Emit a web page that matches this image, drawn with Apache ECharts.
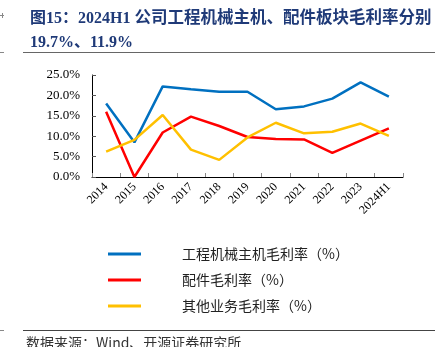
<!DOCTYPE html>
<html>
<head>
<meta charset="utf-8">
<script src="https://cdn.jsdelivr.net/npm/echarts@6/dist/echarts.min.js"></script>
<style>
  html, body { margin: 0; padding: 0; background: #fff; }
  #chart { width: 446px; height: 347px; }
</style>
</head>
<body>
<div id="chart"></div>
<script>
// Gross margin by segment, %
const years = ['2014', '2015', '2016', '2017', '2018', '2019', '2020', '2021', '2022', '2023', '2024H1'];
const hostMargin  = [18.0, 8.5, 22.2, 21.5, 20.9, 20.9, 16.6, 17.3, 19.2, 23.2, 19.7];
const partsMargin = [16.0, 0.0, 10.9, 14.8, 12.5, 9.8, 9.3, 9.2, 5.9, 8.9, 11.9];
const otherMargin = [6.2, 9.1, 15.2, 6.7, 4.2, 9.7, 13.3, 10.7, 11.1, 13.1, 10.1];
const seriesNames = ['工程机械主机毛利率（%）', '配件毛利率（%）', '其他业务毛利率（%）'];
const seriesColors = ['#0070C0', '#FF0000', '#FFC000'];
const titleHead = '图15：2024H1 ';
const titleTail = '公司工程机械主机、配件板块毛利率分别';
const titleLine2 = '19.7%、11.9%';
const sourceText = '数据来源：Wind、开源证券研究所';

const serif = '"Liberation Serif", "Times New Roman", "Noto Sans CJK SC", serif';
const cjk = '"Noto Sans CJK SC", "Liberation Serif", serif';

const chart = echarts.init(document.getElementById('chart'), null, { renderer: 'canvas' });

const lineSeries = [hostMargin, partsMargin, otherMargin].map((d, i) => ({
  name: seriesNames[i],
  type: 'line',
  data: d,
  symbol: 'none',
  lineStyle: { width: 2.5, color: seriesColors[i] },
  itemStyle: { color: seriesColors[i] },
  animation: false
}));

const titleColor = '#1F3A78';

chart.setOption({
  backgroundColor: '#fff',
  animation: false,
  grid: { left: 92, right: 43, top: 75, bottom: 170, containLabel: false },
  xAxis: {
    type: 'category',
    data: years,
    boundaryGap: true,
    axisLine: { lineStyle: { color: '#000', width: 1 } },
    axisTick: { show: true, inside: true, length: 4, lineStyle: { color: '#888' } },
    axisLabel: { rotate: 45, margin: 8, fontFamily: serif, fontSize: 12, color: '#000' }
  },
  yAxis: {
    type: 'value',
    min: 0, max: 25, interval: 5,
    splitLine: { show: false },
    axisLine: { show: true, lineStyle: { color: '#000', width: 1 } },
    axisTick: { show: true, inside: true, length: 4, lineStyle: { color: '#555' } },
    axisLabel: {
      fontFamily: serif, fontSize: 13, color: '#000', margin: 12,
      formatter: v => v.toFixed(1) + '%'
    }
  },
  legend: {
    orient: 'vertical',
    left: 103, top: 242,
    itemWidth: 33, itemHeight: 3,
    itemGap: 12,
    icon: 'rect',
    data: seriesNames,
    textStyle: { fontFamily: cjk, fontSize: 14, color: '#222', padding: [0, 0, 0, 36] }
  },
  title: {
    text: '{a|' + titleHead + '}{b|' + titleTail + '}\n{a|' + titleLine2 + '}',
    left: 25, top: 2,
    textStyle: {
      rich: {
        a: { fontFamily: serif, fontSize: 16, fontWeight: 'bold', color: titleColor, lineHeight: 24 },
        b: { fontFamily: serif, fontSize: 16.5, fontWeight: 'bold', color: titleColor, lineHeight: 24 }
      }
    }
  },
  graphic: [
    { type: 'line', shape: { x1: 23, y1: 52.5, x2: 435, y2: 52.5 }, style: { stroke: '#666', lineWidth: 1 } },
    { type: 'line', shape: { x1: 23, y1: 330.5, x2: 435, y2: 330.5 }, style: { stroke: '#444', lineWidth: 1 } },
    { type: 'line', shape: { x1: 0, y1: 52.5, x2: 4, y2: 52.5 }, style: { stroke: '#888', lineWidth: 1 } },
    { type: 'line', shape: { x1: 0, y1: 330.5, x2: 4, y2: 330.5 }, style: { stroke: '#888', lineWidth: 1 } },
    { type: 'line', shape: { x1: 0, y1: 15.5, x2: 4, y2: 15.5 }, style: { stroke: '#888', lineWidth: 1 } },
    { type: 'line', shape: { x1: 2.5, y1: 13, x2: 2.5, y2: 18 }, style: { stroke: '#888', lineWidth: 1 } },
    { type: 'text', left: 26, top: 336, style: { text: sourceText, font: '14px ' + cjk, fill: '#333' } }
  ],
  series: lineSeries
});
</script>
</body>
</html>
